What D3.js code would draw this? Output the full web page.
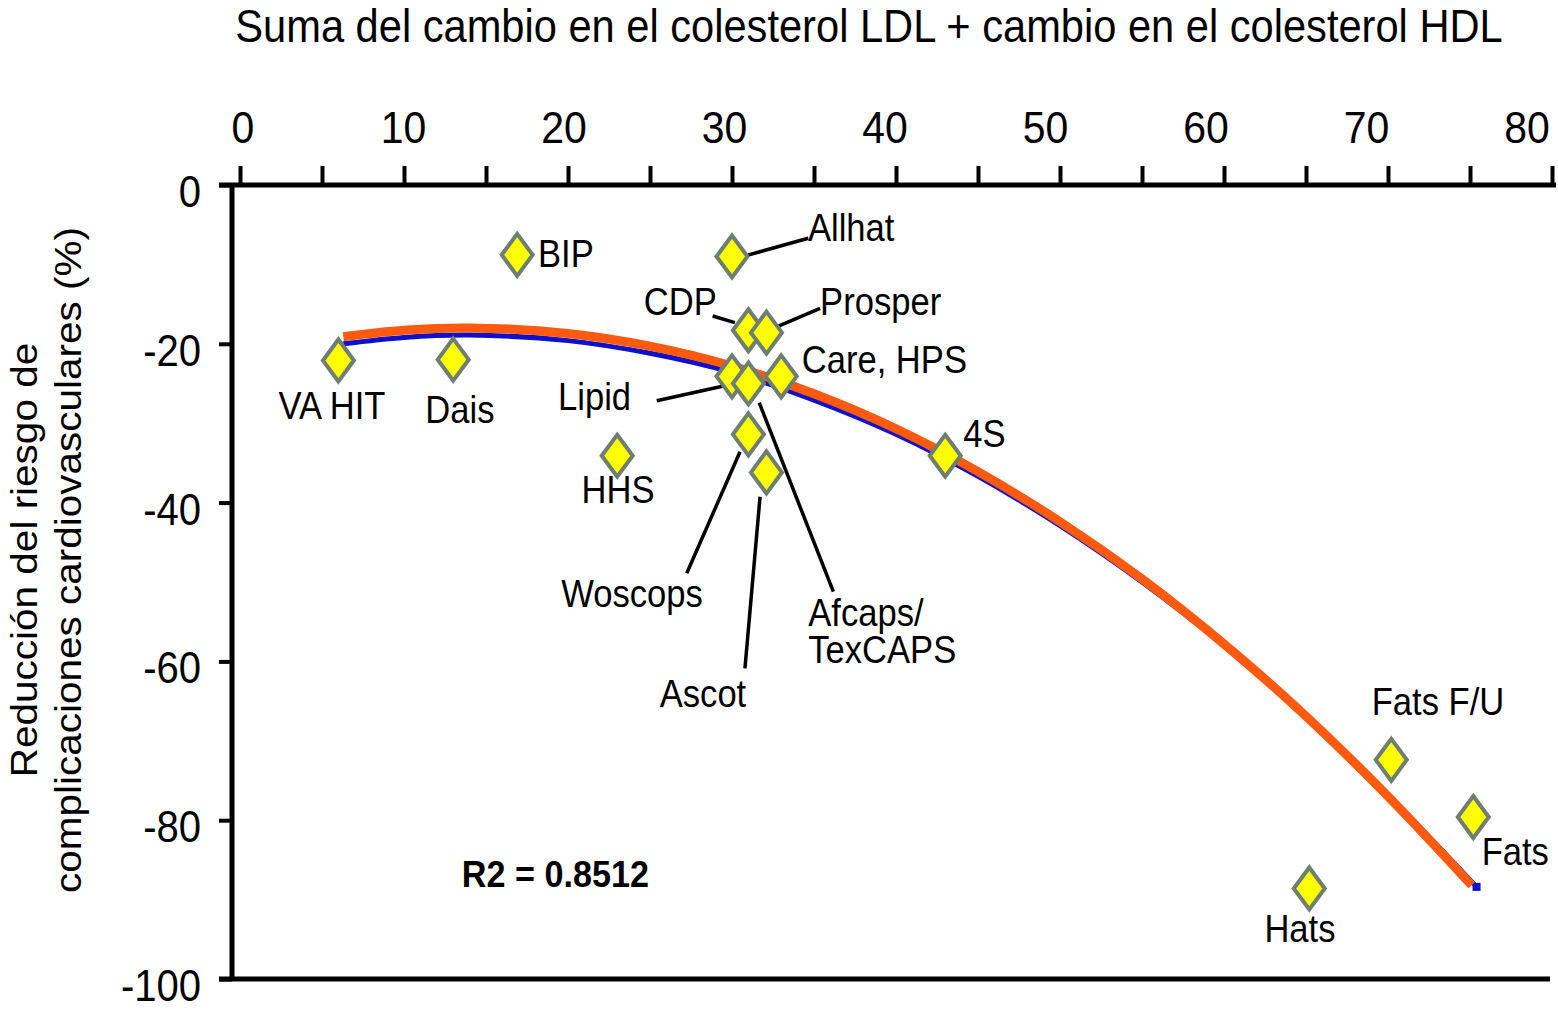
<!DOCTYPE html>
<html>
<head>
<meta charset="utf-8">
<script src="https://cdn.jsdelivr.net/npm/d3@7"></script>
<style>
  html, body { margin: 0; padding: 0; background: #fff; }
  svg { display: block; }
  text { font-family: "Liberation Sans", Arial, Helvetica, sans-serif; fill: #000; }
</style>
</head>
<body>
<svg id="chart" width="1558" height="1012"></svg>
<script>
// ---------------- data ----------------
const titleText = "Suma del cambio en el colesterol LDL + cambio en el colesterol HDL";
const yLabelLines = ["Reducción del riesgo de", "complicaciones cardiovasculares (%)"];

const xTickValues = [0, 5, 10, 15, 20, 25, 30, 35, 40, 45, 50, 55, 60, 65, 70, 75, 80];
const xTickLabels = [0, 10, 20, 30, 40, 50, 60, 70, 80];
const yTickValues = [0, -20, -40, -60, -80, -100];

// trials: name, x (sum of LDL + HDL change), y (risk reduction %)
const trialNames = ["VA HIT", "Dais", "BIP", "HHS", "Allhat", "CDP", "Prosper", "Lipid", "Afcaps/TexCAPS", "Care, HPS", "Woscops", "Ascot", "4S", "Hats", "Fats F/U", "Fats"];
const trialX =     [6.0,  13.0,  16.9, 23.0, 30.0, 31.0, 32.1, 30.0, 31.0, 33.0, 31.0, 32.1, 43.0, 65.2, 70.2, 75.2];
const trialY =     [-22.1, -22.0, -8.8, -34.1, -9.0, -18.3, -18.6, -24.1, -25.0, -24.1, -31.4, -36.2, -34.1, -88.6, -72.4, -79.6];

// trend curves
const orangeX = [6.3, 10, 14, 20, 25, 30, 35, 40, 45, 50, 55, 60, 65, 70, 75.1];
const orangeY = [-19.1, -18.3, -18.0, -18.7, -20.3, -22.8, -26.3, -30.7, -36.1, -42.4, -49.6, -57.8, -66.9, -77.0, -88.2];
const blueX = [6.3, 10, 14, 20, 25, 30, 35, 40, 45, 50, 55, 60, 65, 70, 75.4];
const blueY = [-20.0, -19.2, -18.9, -19.6, -21.2, -23.6, -27.1, -31.4, -36.7, -42.9, -50.0, -58.0, -66.9, -76.8, -88.4];

// labels (data coordinates), anchors
const labelText =   ["VA HIT", "Dais", "BIP", "Allhat", "CDP", "Prosper", "Care, HPS", "Lipid", "HHS", "Woscops", "Ascot", "Afcaps/", "TexCAPS", "4S", "Fats F/U", "Fats", "Hats"];
const labelX =      [5.61, 13.41, 18.17, 34.63, 29.07, 35.37, 34.25, 19.39, 23.05, 23.90, 28.23, 34.65, 34.65, 44.10, 73.05, 75.71, 64.63];
const labelY =      [-29.47, -29.97, -10.33, -7.05, -16.37, -16.37, -23.64, -28.34, -40.05, -53.11, -65.71, -55.50, -60.20, -33.04, -66.75, -85.64, -95.30];
const labelAnchor = ["middle", "middle", "start", "start", "end", "start", "start", "start", "middle", "middle", "middle", "start", "start", "start", "middle", "start", "middle"];

// leader lines: [x1, y1, x2, y2] in data units
const leaderNames = ["Allhat", "CDP", "Prosper", "Lipid", "Woscops", "Ascot", "Afcaps"];
const leaderX1 = [30.99, 28.82, 32.62, 25.41, 30.49, 31.71, 31.66];
const leaderY1 = [-8.82, -16.50, -17.97, -27.17, -33.59, -39.26, -27.42];
const leaderX2 = [34.65, 30.18, 35.37, 30.04, 27.24, 30.79, 36.18];
const leaderY2 = [-6.71, -17.34, -15.53, -25.06, -48.90, -60.87, -51.22];

const r2Text = "R2 = 0.8512";
const r2X = 13.52, r2Y = -88.38;

// ---------------- drawing ----------------
const svg = d3.select("#chart");
const x = d3.scaleLinear().domain([0, 80]).range([240, 1552]);
const xLab = d3.scaleLinear().domain([0, 80]).range([243, 1527]);
const y = d3.scaleLinear().domain([0, -100]).range([185, 979]);
const axisX0 = 232; // y-axis position
const SX = 0.91;

function sText(g, tx, ty, str, size, anchor, weight, sx) {
  return g.append("text")
    .attr("transform", `translate(${tx},${ty}) scale(${sx || SX},1)`)
    .attr("text-anchor", anchor)
    .attr("font-size", size)
    .attr("font-weight", weight || "normal")
    .text(str);
}

// title
sText(svg, 869, 42, titleText, 46, "middle", "normal", 0.905);

// y axis label (rotated)
const yl = svg.append("g");
yLabelLines.forEach((t, i) => {
  yl.append("text")
    .attr("transform", `translate(${[37, 81][i]},560) rotate(-90) scale(1,0.9)`)
    .attr("text-anchor", "middle")
    .attr("font-size", 40.5)
    .text(t);
});

// top x axis
const xAxis = d3.axisTop(x).tickValues(xTickValues).tickSize(19).tickSizeOuter(0).tickFormat("");
const gx = svg.append("g").attr("transform", `translate(0,${y(0)})`).call(xAxis);
gx.select(".domain").remove();
gx.selectAll(".tick line").attr("stroke", "#000").attr("stroke-width", 4);
svg.append("line").attr("x1", axisX0 - 13).attr("x2", x(80) + 4)
  .attr("y1", y(0)).attr("y2", y(0)).attr("stroke", "#000").attr("stroke-width", 5);
xTickLabels.forEach(v => sText(svg, xLab(v), 143, String(v), 45, "middle"));

// left y axis
const yAxis = d3.axisLeft(y).tickValues(yTickValues).tickSize(13).tickSizeOuter(0).tickFormat("");
const gy = svg.append("g").attr("transform", `translate(${axisX0},0)`).call(yAxis);
gy.select(".domain").remove();
gy.selectAll(".tick line").attr("stroke", "#000").attr("stroke-width", 4);
svg.append("line").attr("x1", axisX0).attr("x2", axisX0)
  .attr("y1", y(0)).attr("y2", y(-100)).attr("stroke", "#000").attr("stroke-width", 5);
yTickValues.forEach(v => sText(svg, 201, y(v) + 22, String(v), 44, "end"));

// bottom frame line
svg.append("line").attr("x1", axisX0 - 13).attr("x2", 1550)
  .attr("y1", y(-100)).attr("y2", y(-100)).attr("stroke", "#000").attr("stroke-width", 5);

// trend curves
const blueData = blueX.map((v, i) => [v, blueY[i]]);
const orangeData = orangeX.map((v, i) => [v, orangeY[i]]);
const lineGen = d3.line().x(d => x(d[0])).y(d => y(d[1])).curve(d3.curveCatmullRom);
svg.append("path").attr("d", lineGen(blueData)).attr("fill", "none")
  .attr("stroke", "#1010c8").attr("stroke-width", 5);
const last = blueData[blueData.length - 1];
svg.append("rect").attr("x", x(last[0]) - 4).attr("y", y(last[1]) - 4)
  .attr("width", 8).attr("height", 8).attr("fill", "#1010c8");
svg.append("path").attr("d", lineGen(orangeData)).attr("fill", "none")
  .attr("stroke", "#ff5a10").attr("stroke-width", 9);

// leader lines
leaderNames.forEach((n, i) => {
  svg.append("line")
    .attr("x1", x(leaderX1[i])).attr("y1", y(leaderY1[i]))
    .attr("x2", x(leaderX2[i])).attr("y2", y(leaderY2[i]))
    .attr("stroke", "#000").attr("stroke-width", 3.5);
});

// diamonds
const hw = 15.5, hh = 21;
trialNames.forEach((n, i) => {
  const cx = x(trialX[i]), cy = y(trialY[i]);
  svg.append("path")
    .attr("d", `M${cx},${cy - hh}L${cx + hw},${cy}L${cx},${cy + hh}L${cx - hw},${cy}Z`)
    .attr("fill", "#ffff00").attr("stroke", "#6e7e72").attr("stroke-width", 4)
    .attr("stroke-linejoin", "miter");
});

// labels
labelText.forEach((t, i) => sText(svg, x(labelX[i]), y(labelY[i]), t, 38, labelAnchor[i]));

// R2
sText(svg, x(r2X), y(r2Y), r2Text, 36, "start", "bold", 0.95);
</script>
</body>
</html>
